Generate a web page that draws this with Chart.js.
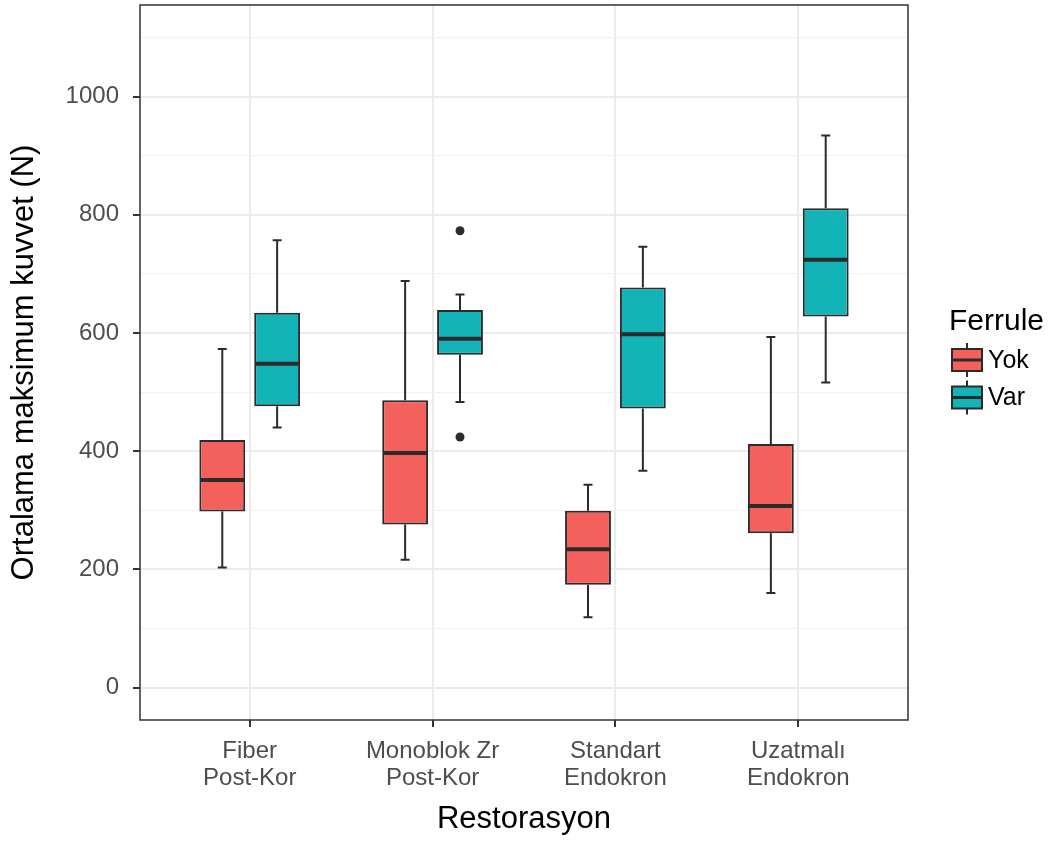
<!DOCTYPE html>
<html>
<head>
<meta charset="utf-8">
<script src="https://cdn.jsdelivr.net/npm/chart.js@4/dist/chart.umd.min.js"></script>
<style>
  html, body { margin: 0; padding: 0; background: #fff; }
  #wrap { width: 1053px; height: 841px; }
</style>
</head>
<body>
<div id="wrap"><canvas id="chart-box" width="1053" height="841"></canvas></div>
<script>
// ── data ──
const categories = [['Fiber', 'Post-Kor'], ['Monoblok Zr', 'Post-Kor'], ['Standart', 'Endokron'], ['Uzatmalı', 'Endokron']];
const groups = ['Yok', 'Var'];
const groupColors = ['#F4615C', '#13B4B8'];
const legendTitle = 'Ferrule';
const xTitle = 'Restorasyon';
const yTitle = 'Ortalama maksimum kuvvet (N)';
const yTicks = [0, 100, 200, 300, 400, 500, 600, 700, 800, 900, 1000, 1100];
const yLabelled = [0, 200, 400, 600, 800, 1000];

const yokMin    = [203, 216, 119, 160];
const yokQ1     = [298, 276, 174, 261];
const yokMedian = [351, 397, 234, 307];
const yokQ3     = [419, 486, 299, 412];
const yokMax    = [573, 688, 343, 593];
const yokOut    = [[], [], [], []];

const varMin    = [440, 483, 367, 516];
const varQ1     = [476, 563, 472, 628];
const varMedian = [548, 590, 598, 724];
const varQ3     = [634, 639, 677, 811];
const varMax    = [757, 665, 746, 934];
const varOut    = [[], [773, 424], [], []];

const stats = [
  { min: yokMin, med: yokMedian, max: yokMax, out: yokOut },
  { min: varMin, med: varMedian, max: varMax, out: varOut },
];

const INK = '#2B2B2B';
const FONT = '"Liberation Sans", Arial, sans-serif';
Chart.defaults.font.family = FONT;

// whiskers, caps, medians and outliers on top of the floating-bar boxes
const boxParts = {
  id: 'boxParts',
  afterDatasetsDraw(chart) {
    const ctx = chart.ctx, ys = chart.scales.y;
    ctx.save();
    ctx.strokeStyle = INK;
    ctx.fillStyle = INK;
    chart.data.datasets.forEach((ds, d) => {
      const s = stats[d];
      chart.getDatasetMeta(d).data.forEach((bar, i) => {
        const x = bar.x, half = bar.width / 2;
        const top = Math.min(bar.y, bar.base), bot = Math.max(bar.y, bar.base);
        const yHi = ys.getPixelForValue(s.max[i]), yLo = ys.getPixelForValue(s.min[i]);
        ctx.lineWidth = 2;
        ctx.beginPath();
        ctx.moveTo(x, top); ctx.lineTo(x, yHi);
        ctx.moveTo(x, bot); ctx.lineTo(x, yLo);
        ctx.moveTo(x - 4.5, yHi); ctx.lineTo(x + 4.5, yHi);
        ctx.moveTo(x - 4.5, yLo); ctx.lineTo(x + 4.5, yLo);
        ctx.stroke();
        const ym = ys.getPixelForValue(s.med[i]);
        ctx.lineWidth = 4;
        ctx.beginPath();
        ctx.moveTo(x - half + 1, ym); ctx.lineTo(x + half - 1, ym);
        ctx.stroke();
        s.out[i].forEach(v => {
          ctx.beginPath();
          ctx.arc(x, ys.getPixelForValue(v), 4.5, 0, Math.PI * 2);
          ctx.fill();
        });
      });
    });
    ctx.restore();
  },
  afterDraw(chart) {
    const ctx = chart.ctx, a = chart.chartArea;
    ctx.save();
    // panel border
    ctx.strokeStyle = '#333333';
    ctx.lineWidth = 1.5;
    ctx.strokeRect(a.left, a.top, a.right - a.left, a.bottom - a.top);

    // legend
    ctx.fillStyle = '#000';
    ctx.font = '30px ' + FONT;
    ctx.textAlign = 'left';
    ctx.textBaseline = 'alphabetic';
    ctx.fillText(legendTitle, 949, 330);
    groups.forEach((g, k) => {
      const cy = 360 + k * 37.5, cx = 967;
      ctx.strokeStyle = INK;
      ctx.lineWidth = 2;
      ctx.beginPath();
      ctx.moveTo(cx, cy - 17); ctx.lineTo(cx, cy + 17);
      ctx.stroke();
      ctx.fillStyle = groupColors[k];
      ctx.fillRect(952, cy - 11, 30, 22);
      ctx.strokeRect(952, cy - 11, 30, 22);
      ctx.lineWidth = 3;
      ctx.beginPath();
      ctx.moveTo(952, cy); ctx.lineTo(982, cy);
      ctx.stroke();
      ctx.fillStyle = '#000';
      ctx.font = '25px ' + FONT;
      ctx.textBaseline = 'middle';
      ctx.fillText(g, 988, cy + 1);
    });
    ctx.restore();
  }
};

const boxData = (q1, q3) => q1.map((v, i) => ({ x: i + 1, y: [v, q3[i]] }));

new Chart(document.getElementById('chart-box'), {
  type: 'bar',
  data: {
    datasets: [
      { label: groups[0], data: boxData(yokQ1, yokQ3), backgroundColor: groupColors[0], borderColor: INK, borderWidth: 2, borderSkipped: false },
      { label: groups[1], data: boxData(varQ1, varQ3), backgroundColor: groupColors[1], borderColor: INK, borderWidth: 2, borderSkipped: false },
    ]
  },
  options: {
    responsive: false,
    animation: false,
    categoryPercentage: 0.6,
    barPercentage: 0.836,
    layout: { padding: { top: 5, right: 145, left: 0, bottom: 0 } },
    plugins: { legend: { display: false }, tooltip: { enabled: false } },
    scales: {
      x: {
        type: 'linear', min: 0.4, max: 4.6, offset: false,
        afterBuildTicks: s => { s.ticks = categories.map((c, i) => ({ value: i + 1 })); },
        afterFit: s => { s.height = 121; s.paddingLeft = 0; s.paddingRight = 0; },
        ticks: {
          padding: 11,
          color: '#4D4D4D',
          font: { size: 24, lineHeight: 1.12 },
          callback: v => categories[v - 1],
          maxRotation: 0, autoSkip: false,
        },
        grid: { offset: false, color: '#EBEBEB', lineWidth: 2, tickLength: 7, tickColor: '#333333', tickWidth: 2 },
        border: { display: false },
        title: { display: true, text: xTitle, color: '#000', font: { size: 31 }, padding: { top: 0, bottom: 3 } },
      },
      y: {
        min: -55, max: 1155,
        afterBuildTicks: s => { s.ticks = yTicks.map(v => ({ value: v })); },
        afterFit: s => { s.width = 140; s.paddingTop = 0; s.paddingBottom = 0; },
        ticks: {
          padding: 14,
          color: '#4D4D4D',
          font: { size: 24 },
          callback: v => yLabelled.includes(v) ? String(v) : '',
          autoSkip: false,
        },
        grid: {
          color: c => yLabelled.includes(c.tick && c.tick.value) ? '#EBEBEB' : '#F2F2F2',
          lineWidth: c => yLabelled.includes(c.tick && c.tick.value) ? 2 : 1,
          tickLength: 7,
          tickColor: c => yLabelled.includes(c.tick && c.tick.value) ? '#333333' : 'rgba(0,0,0,0)',
          tickWidth: 2,
        },
        border: { display: false },
        title: { display: true, text: yTitle, color: '#000', font: { size: 31 }, padding: { top: 6, bottom: 0 } },
      }
    }
  },
  plugins: [boxParts]
});
</script>
</body>
</html>
